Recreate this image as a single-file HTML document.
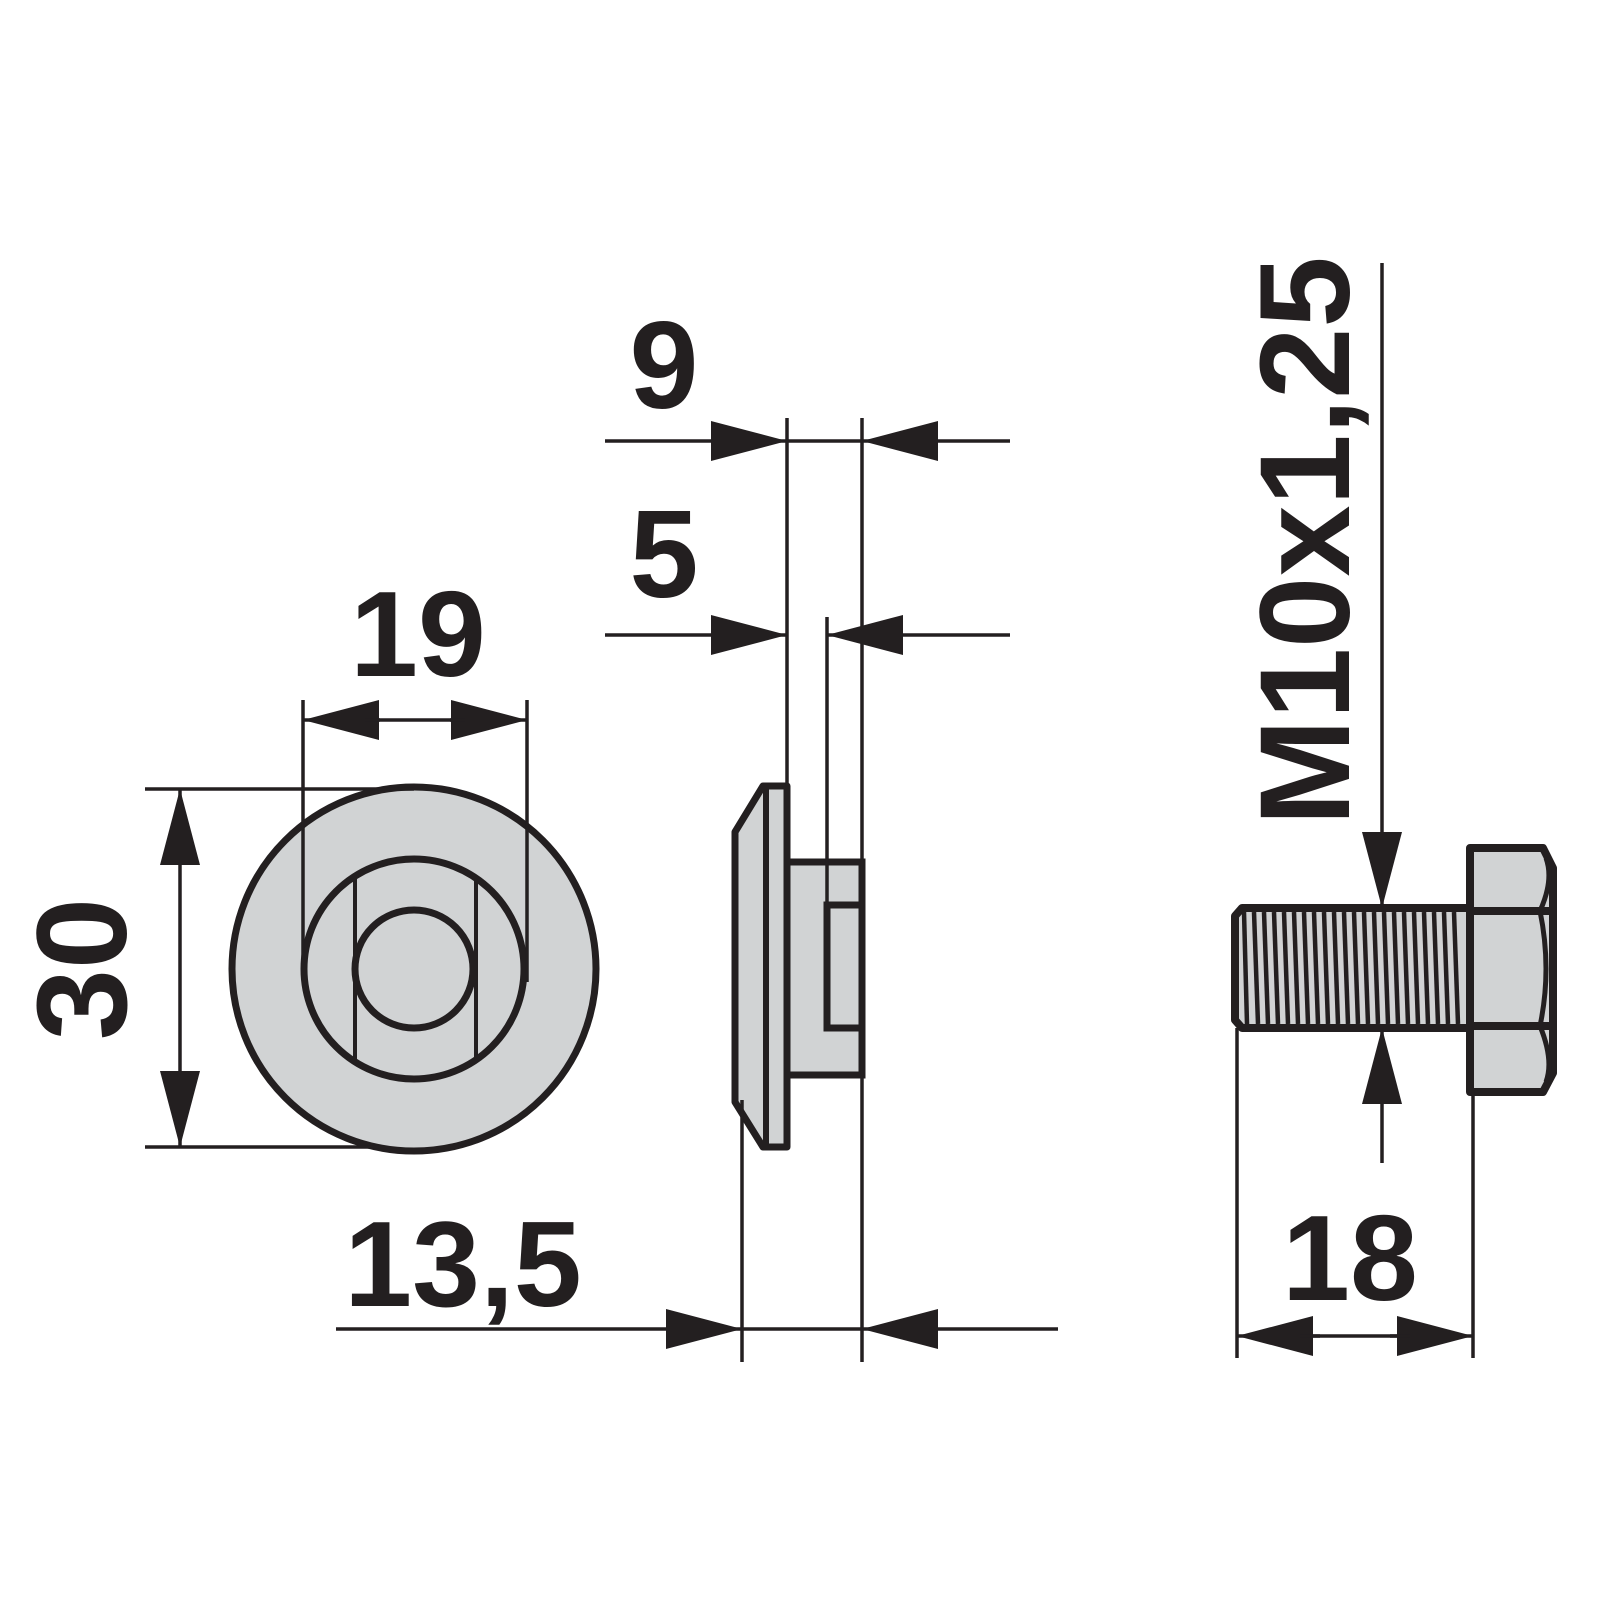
<!DOCTYPE html>
<html><head><meta charset="utf-8"><style>html,body{margin:0;padding:0;background:#fff}svg{display:block}</style></head>
<body>
<svg width="1600" height="1600" viewBox="0 0 1600 1600" xmlns="http://www.w3.org/2000/svg">
<defs>
<marker id="a" viewBox="0 0 76 40" refX="76" refY="20" markerWidth="76" markerHeight="40" markerUnits="userSpaceOnUse" orient="auto">
<path d="M0,0 L76,20 L0,40 Z" fill="#231f20"/></marker>
</defs>
<g font-family="Liberation Sans, sans-serif" font-weight="bold" fill="#231f20">
<text x="418" y="676" font-size="122" text-anchor="middle">19</text>
<text transform="translate(126,969) rotate(-90)" font-size="128" text-anchor="middle">30</text>
<text x="664" y="408" font-size="124" text-anchor="middle">9</text>
<text x="664" y="597" font-size="124" text-anchor="middle">5</text>
<text x="463" y="1306" font-size="122" text-anchor="middle">13,5</text>
<text x="1350" y="1300" font-size="122" text-anchor="middle">18</text>
<text transform="translate(1349,541) rotate(-90)" font-size="128" text-anchor="middle">M10x1,25</text>
</g>
<g stroke="#231f20" fill="none">
<circle cx="414" cy="969" r="182" fill="#d1d3d4" stroke-width="7"/>
<circle cx="414" cy="969" r="110" stroke-width="7"/>
<circle cx="414" cy="969" r="59" stroke-width="7"/>
<line x1="355" y1="877" x2="355" y2="1061" stroke-width="4"/>
<line x1="476" y1="877" x2="476" y2="1061" stroke-width="4"/>
<line x1="303" y1="700" x2="303" y2="965" stroke-width="3.5"/>
<line x1="527" y1="700" x2="527" y2="982" stroke-width="3.5"/>
<line x1="380" y1="720" x2="303" y2="720" stroke-width="3.5" marker-end="url(#a)"/>
<line x1="450" y1="720" x2="527" y2="720" stroke-width="3.5" marker-end="url(#a)"/>
<line x1="365" y1="720" x2="465" y2="720" stroke-width="3.5"/>
<line x1="145" y1="789" x2="414" y2="789" stroke-width="3.5"/>
<line x1="145" y1="1147" x2="380" y2="1147" stroke-width="3.5"/>
<line x1="180" y1="969" x2="180" y2="789" stroke-width="3.5" marker-end="url(#a)"/>
<line x1="180" y1="969" x2="180" y2="1147" stroke-width="3.5" marker-end="url(#a)"/>
<path d="M735,832 L763,786 L787,786 L787,1147 L763,1147 L735,1102 Z" fill="#d1d3d4" stroke-width="7" stroke-linejoin="round"/>
<line x1="766" y1="786" x2="766" y2="1147" stroke-width="6"/>
<rect x="787" y="862" width="75" height="213" fill="#d1d3d4" stroke-width="7"/>
<rect x="827" y="905" width="35" height="123" fill="#d1d3d4" stroke-width="7"/>
<line x1="787" y1="418" x2="787" y2="786" stroke-width="3.5"/>
<line x1="827" y1="617" x2="827" y2="905" stroke-width="3.5"/>
<line x1="862" y1="418" x2="862" y2="1362" stroke-width="3.5"/>
<line x1="742" y1="1100" x2="742" y2="1362" stroke-width="3.5"/>
<line x1="605" y1="441" x2="787" y2="441" stroke-width="3.5" marker-end="url(#a)"/>
<line x1="1010" y1="441" x2="862" y2="441" stroke-width="3.5" marker-end="url(#a)"/>
<line x1="787" y1="441" x2="862" y2="441" stroke-width="3.5"/>
<line x1="605" y1="635" x2="787" y2="635" stroke-width="3.5" marker-end="url(#a)"/>
<line x1="1010" y1="635" x2="827" y2="635" stroke-width="3.5" marker-end="url(#a)"/>
<line x1="336" y1="1329" x2="742" y2="1329" stroke-width="3.5" marker-end="url(#a)"/>
<line x1="1058" y1="1329" x2="862" y2="1329" stroke-width="3.5" marker-end="url(#a)"/>
<line x1="742" y1="1329" x2="862" y2="1329" stroke-width="3.5"/>
<path d="M1242,908 L1473,908 L1473,1028 L1242,1028 L1235,1020 L1235,916 Z" fill="#d1d3d4" stroke-width="8" stroke-linejoin="round"/>
<g stroke-width="4.5">
<line x1="1244" y1="912" x2="1247" y2="1024"/><line x1="1254" y1="912" x2="1258" y2="1024"/>
<line x1="1264" y1="912" x2="1268" y2="1024"/><line x1="1274" y1="912" x2="1278" y2="1024"/>
<line x1="1284" y1="912" x2="1288" y2="1024"/><line x1="1294" y1="912" x2="1298" y2="1024"/>
<line x1="1304" y1="912" x2="1308" y2="1024"/><line x1="1314" y1="912" x2="1318" y2="1024"/>
<line x1="1324" y1="912" x2="1328" y2="1024"/><line x1="1334" y1="912" x2="1338" y2="1024"/>
<line x1="1344" y1="912" x2="1348" y2="1024"/><line x1="1354" y1="912" x2="1358" y2="1024"/>
<line x1="1364" y1="912" x2="1368" y2="1024"/><line x1="1374" y1="912" x2="1378" y2="1024"/>
<line x1="1384" y1="912" x2="1388" y2="1024"/><line x1="1394" y1="912" x2="1398" y2="1024"/>
<line x1="1404" y1="912" x2="1408" y2="1024"/><line x1="1414" y1="912" x2="1418" y2="1024"/>
<line x1="1424" y1="912" x2="1428" y2="1024"/><line x1="1434" y1="912" x2="1438" y2="1024"/>
<line x1="1444" y1="912" x2="1448" y2="1024"/><line x1="1454" y1="912" x2="1458" y2="1024"/>
</g>
<path d="M1470,848 L1543,848 L1553,868 L1553,1073 L1543,1092 L1470,1092 Z" fill="#d1d3d4" stroke-width="8" stroke-linejoin="round"/>
<line x1="1470" y1="911" x2="1550" y2="911" stroke-width="8"/>
<line x1="1470" y1="1026" x2="1550" y2="1026" stroke-width="8"/>
<path d="M1540,911 Q1554,880 1546,858 M1540,911 Q1552,969 1540,1026 M1540,1026 Q1554,1060 1546,1082" stroke-width="5"/>
<line x1="1382" y1="263" x2="1382" y2="908" stroke-width="3.5" marker-end="url(#a)"/>
<line x1="1382" y1="1163" x2="1382" y2="1028" stroke-width="3.5" marker-end="url(#a)"/>
<line x1="1237" y1="1028" x2="1237" y2="1358" stroke-width="3.5"/>
<line x1="1473" y1="1092" x2="1473" y2="1358" stroke-width="3.5"/>
<line x1="1320" y1="1336" x2="1237" y2="1336" stroke-width="3.5" marker-end="url(#a)"/>
<line x1="1390" y1="1336" x2="1473" y2="1336" stroke-width="3.5" marker-end="url(#a)"/>
<line x1="1300" y1="1336" x2="1410" y2="1336" stroke-width="3.5"/>
</g>
</svg>
</body></html>
